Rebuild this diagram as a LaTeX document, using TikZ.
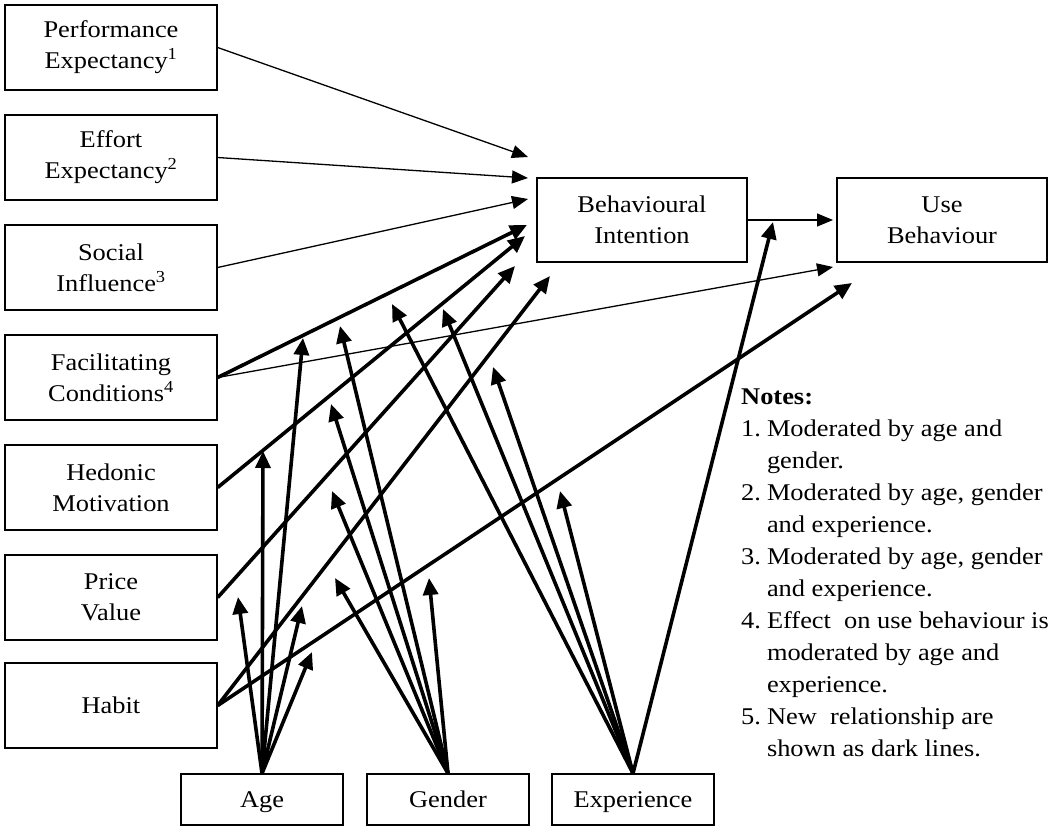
\documentclass[tikz,border=0pt]{standalone}
\usepackage{fontspec}
\setmainfont{Liberation Serif}[FakeStretch=1.1]
\usetikzlibrary{arrows.meta}
\begin{document}
\begin{tikzpicture}[x=1pt,y=-1pt,
  box/.style={draw, line width=1.3pt, inner sep=0pt, align=center,
    font=\fontsize{24}{31}\selectfont},
  leftbox/.style={box, minimum width=212pt, minimum height=85pt},
  midbox/.style={box, minimum width=210pt, minimum height=84pt},
  modbox/.style={box, minimum width=162pt, minimum height=51pt,
    text height=16pt, text depth=1pt},
  thinarrow/.style={line width=1.3pt, -{Triangle[length=16pt,width=13pt]}},
  thickarrow/.style={line width=3.6pt, -{Triangle[length=17pt,width=15pt]}},
]
\useasboundingbox (0,0) rectangle (1055,827);
\fill[white] (0,0) rectangle (1055,827);

% constructs
\node[leftbox] (pe) at (111,47.5)  {Performance\\Expectancy\textsuperscript{1}};
\node[leftbox] (ee) at (111,157.5) {Effort\\Expectancy\textsuperscript{2}};
\node[leftbox] (si) at (111,267.5) {Social\\Influence\textsuperscript{3}};
\node[leftbox] (fc) at (111,377.5) {Facilitating\\Conditions\textsuperscript{4}};
\node[leftbox] (hm) at (111,487.5) {Hedonic\\Motivation};
\node[leftbox] (pv) at (111,597.5) {Price\\Value};
\node[leftbox] (hb) at (111,705.5) {Habit};
\node[midbox] (bi) at (642,220) {Behavioural\\Intention};
\node[midbox] (ub) at (942,220) {Use\\Behaviour};

% moderators
\node[modbox] (age) at (262,799.5) {Age};
\node[modbox] (gen) at (448,799.5) {Gender};
\node[modbox] (exp) at (633,799.5) {Experience};

% arrow end points
\coordinate (pe-t) at (528,157);
\coordinate (ee-t) at (528,178);
\coordinate (si-t) at (528,199);
\coordinate (fc-t) at (527,225);
\coordinate (hm-t) at (525,236);
\coordinate (pv-t) at (515,266);
\coordinate (hb-t) at (550,276);
\coordinate (bi-t) at (833,220);
\coordinate (fcu-t) at (833,267);
\coordinate (hbu-t) at (852,283);

\coordinate (a1) at (303,338);
\coordinate (a2) at (263,451);
\coordinate (a3) at (238,597);
\coordinate (a4) at (302,606);
\coordinate (a5) at (312,652);

\coordinate (g1) at (340,326);
\coordinate (g2) at (331,404);
\coordinate (g3) at (332,491);
\coordinate (g4) at (335,578);
\coordinate (g5) at (429,578);

\coordinate (e1) at (392,304);
\coordinate (e2) at (443,309);
\coordinate (e3) at (493,367);
\coordinate (e4) at (560,491);
\coordinate (e5) at (773,222);

% original relationships
\draw[thinarrow] (pe.east) -- (pe-t);
\draw[thinarrow] (ee.east) -- (ee-t);
\draw[thinarrow] (si.east) -- (si-t);
\draw[thinarrow] (fc.east) -- (fcu-t);
\draw[thinarrow] (bi.east) -- (bi-t);

% new relationships
\draw[thickarrow] (fc.east) -- (fc-t);
\draw[thickarrow] (hm.east) -- (hm-t);
\draw[thickarrow] (pv.east) -- (pv-t);
\draw[thickarrow] (hb.east) -- (hb-t);
\draw[thickarrow] (hb.east) -- (hbu-t);

% moderating effects
\foreach \t in {a1,a2,a3,a4,a5} \draw[thickarrow] (age.north) -- (\t);
\foreach \t in {g1,g2,g3,g4,g5} \draw[thickarrow] (gen.north) -- (\t);
\foreach \t in {e1,e2,e3,e4,e5} \draw[thickarrow] (exp.north) -- (\t);

% notes
\node[anchor=north west, inner sep=0pt, font=\fontsize{24}{32}\selectfont] (notes) at (741,381.6) {%
  \begin{tabular}{@{}r@{\hspace{6pt}}l@{}}
  \multicolumn{2}{@{}l}{\textbf{Notes:}}\\
  1. & Moderated by age and\\
     & gender.\\
  2. & Moderated by age, gender\\
     & and experience.\\
  3. & Moderated by age, gender\\
     & and experience.\\
  4. & Effect\ \ on use behaviour is\\
     & moderated by age and\\
     & experience.\\
  5. & New\ \ relationship are\\
     & shown as dark lines.
  \end{tabular}};
\end{tikzpicture}
\end{document}
